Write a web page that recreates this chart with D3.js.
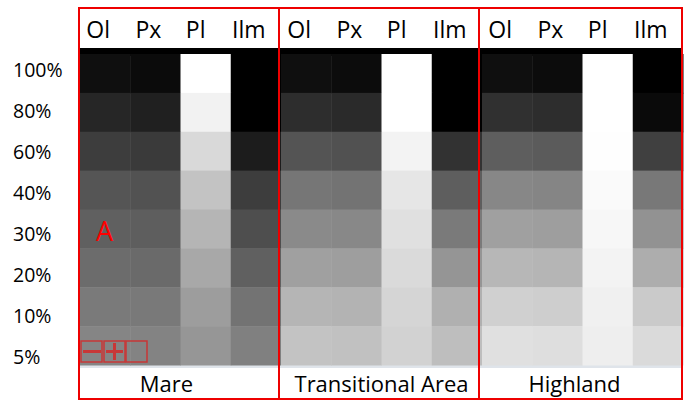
<!DOCTYPE html>
<html>
<head>
<meta charset="utf-8">
<script src="https://cdn.jsdelivr.net/npm/d3@7"></script>
<style>
  body { margin: 0; background: #fff; }
  text { font-family: "Open Sans", sans-serif; fill: #000; }
</style>
</head>
<body>
<div id="chart"></div>
<script>
// minerals across, abundance levels down, grey level (0 = black, 255 = white) per cell
let minerals = ["Ol", "Px", "Pl", "Ilm"]
let levels = ["100%", "80%", "60%", "40%", "30%", "20%", "10%", "5%"]
let areas = ["Mare", "Transitional Area", "Highland"]

let mareGrey = [
    [15, 11, 255, 0],
    [38, 32, 242, 0],
    [61, 58, 217, 28],
    [85, 82, 195, 61],
    [96, 94, 181, 78],
    [108, 106, 168, 96],
    [122, 121, 157, 115],
    [133, 131, 150, 128]
]
let transGrey = [
    [15, 12, 255, 0],
    [45, 42, 255, 0],
    [84, 81, 243, 50],
    [118, 115, 230, 94],
    [138, 136, 224, 122],
    [160, 158, 218, 149],
    [181, 179, 213, 176],
    [195, 193, 210, 190]
]
let highGrey = [
    [15, 12, 255, 0],
    [48, 45, 255, 10],
    [94, 91, 254, 64],
    [135, 133, 250, 120],
    [160, 158, 247, 146],
    [183, 181, 243, 173],
    [208, 206, 240, 202],
    [224, 222, 238, 218]
]
let panels = [mareGrey, transGrey, highGrey]

let width = 685, height = 401

let svg = d3.select("#chart")
    .append("svg")
    .attr("width", width)
    .attr("height", height)

let panelX = [80, 281, 482]
let panelW = 201
let gridTop = 48, rowTop = 54, rowBottom = 365

let y = d3.scaleBand()
    .domain(levels)
    .range([rowTop, rowBottom])

// labels on the left are spaced a bit wider than the rows
let yLabel = d3.scalePoint()
    .domain(levels)
    .range([70, 357])

panels.forEach(function(grid, p) {
    let x = d3.scaleBand()
        .domain(minerals)
        .range([panelX[p], panelX[p] + panelW])

    let g = svg.append("g")

    // black strip behind the top row
    g.append("rect")
        .attr("x", panelX[p])
        .attr("y", gridTop)
        .attr("width", panelW)
        .attr("height", rowTop - gridTop + 2)
        .attr("fill", "#000")

    // light strip under the grid
    g.append("rect")
        .attr("x", panelX[p])
        .attr("y", rowBottom)
        .attr("width", panelW)
        .attr("height", 3)
        .attr("fill", "#dfe4ea")

    let cells = []
    grid.forEach(function(row, i) {
        row.forEach(function(v, j) {
            cells.push({level: levels[i], mineral: minerals[j], v: v})
        })
    })

    g.selectAll(".cell")
        .data(cells)
        .enter()
        .append("rect")
        .attr("class", "cell")
        .attr("x", d => x(d.mineral))
        .attr("y", d => y(d.level))
        .attr("width", x.bandwidth() + 0.5)
        .attr("height", y.bandwidth() + 0.5)
        .attr("fill", d => d3.rgb(d.v, d.v, d.v))

    // mineral names in the header, pulled slightly left
    g.selectAll(".head")
        .data(minerals)
        .enter()
        .append("text")
        .attr("x", (d, i) => x(d) + x.bandwidth() / 2 - 7 - (i == 2 ? 3 : 0))
        .attr("y", 38)
        .attr("text-anchor", "middle")
        .style("font-size", "23px")
        .text(d => d)

    g.append("text")
        .attr("x", panelX[p] + panelW / 2 + [-14, 0, -8][p])
        .attr("y", 392)
        .attr("text-anchor", "middle")
        .style("font-size", "22px")
        .text(areas[p])
})

// red frames around each area
let frames = [[79, 279], [279, 479], [479, 682]]
svg.selectAll(".frame")
    .data(frames)
    .enter()
    .append("rect")
    .attr("x", d => d[0])
    .attr("y", 8)
    .attr("width", d => d[1] - d[0])
    .attr("height", 391)
    .attr("fill", "none")
    .attr("stroke", "#ee0000")
    .attr("stroke-width", 2)

svg.selectAll(".ylab")
    .data(levels)
    .enter()
    .append("text")
    .attr("x", 13)
    .attr("y", d => yLabel(d))
    .attr("dy", "0.36em")
    .style("font-size", "19.5px")
    .text(d => d)

svg.append("text")
    .attr("x", 96)
    .attr("y", 241)
    .style("font-size", "27px")
    .style("fill", "#ff0000")
    .text("A")

// the little zoom buttons in the corner
let btn = svg.append("g")
    .attr("stroke", "#d42a2a")
    .attr("fill", "none")
    .attr("opacity", 0.85)
let bx = [81, 104, 126]
bx.forEach(function(x0) {
    btn.append("rect")
        .attr("x", x0).attr("y", 341)
        .attr("width", 21).attr("height", 21)
        .attr("stroke-width", 1.5)
})
btn.append("line").attr("x1", 83).attr("x2", 101).attr("y1", 351.5).attr("y2", 351.5).attr("stroke-width", 3)
btn.append("line").attr("x1", 106).attr("x2", 123).attr("y1", 351.5).attr("y2", 351.5).attr("stroke-width", 3)
btn.append("line").attr("x1", 114.5).attr("x2", 114.5).attr("y1", 343).attr("y2", 360).attr("stroke-width", 3)
</script>
</body>
</html>
